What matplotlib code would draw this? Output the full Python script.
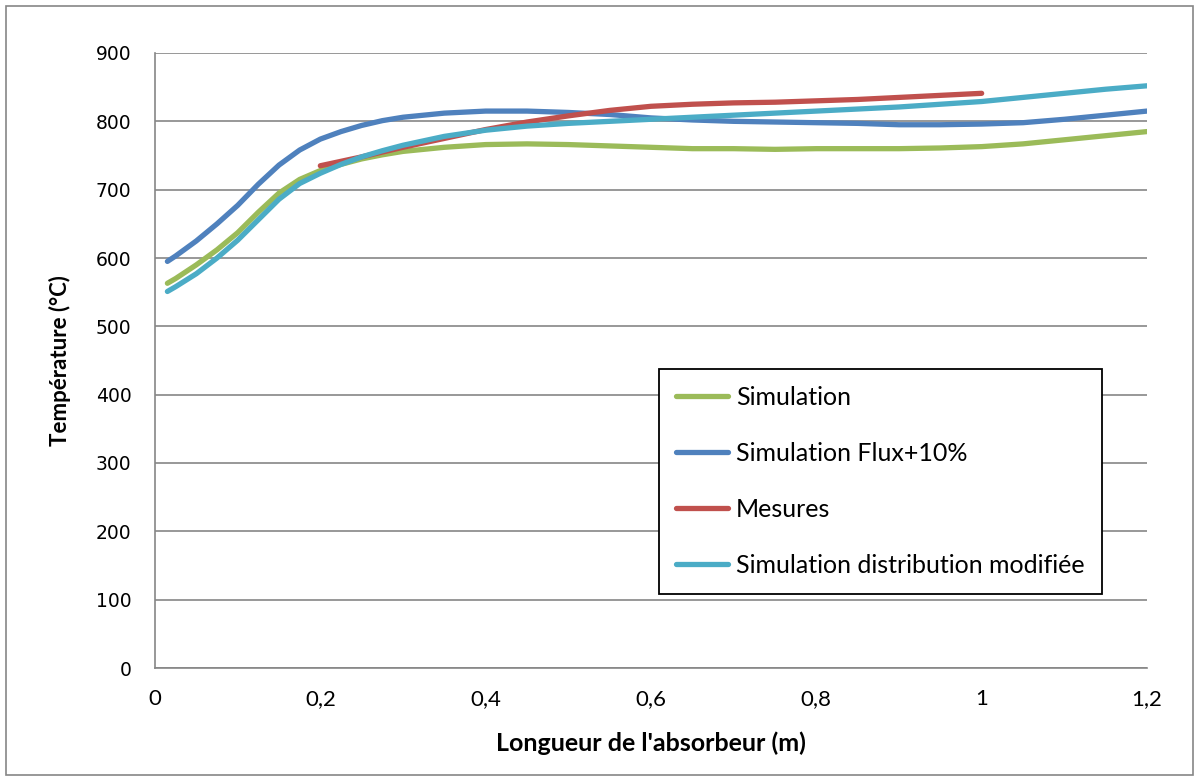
#!/usr/bin/env python3
import matplotlib
matplotlib.use('Agg')
import matplotlib.pyplot as plt
from matplotlib.patches import Rectangle
from matplotlib.ticker import FuncFormatter, MultipleLocator


# valeurs
x_sim = [0.015, 0.025, 0.05, 0.075, 0.1, 0.125, 0.15, 0.175, 0.2, 0.225, 0.25, 0.275, 0.3,
         0.35, 0.4, 0.45, 0.5, 0.55, 0.6, 0.65, 0.7, 0.75, 0.8, 0.85, 0.9, 0.95, 1.0,
         1.05, 1.1, 1.15, 1.2]
sim = [563, 570, 590, 612, 637, 667, 695, 715, 728, 737, 745, 751, 756,
       762, 766, 767, 766, 764, 762, 760, 760, 759, 760, 760, 760, 761, 763,
       767, 773, 779, 785]
flux10 = [595, 603, 625, 650, 677, 708, 736, 758, 774, 785, 794, 801, 806,
          812, 815, 815, 813, 810, 805, 802, 800, 799, 798, 797, 795, 795, 796,
          798, 803, 809, 815]
dist_mod = [551, 558, 577, 600, 626, 656, 686, 709, 724, 737, 748, 757, 765,
            778, 787, 793, 797, 800, 803, 806, 809, 812, 815, 818, 821, 825, 829,
            835, 841, 847, 852]

x_mes = [0.2, 0.25, 0.3, 0.35, 0.4, 0.45, 0.5, 0.55, 0.6, 0.65, 0.7, 0.75, 0.8, 0.85, 0.9, 0.95, 1.0]
mesures = [735, 748, 762, 775, 788, 799, 808, 816, 822, 825, 827, 828, 830, 832, 835, 838, 841]

GREEN = '#9BBB59'
BLUE = '#4F81BD'
RED = '#C0504D'
CYAN = '#4BACC6'
GRID = '#868686'

plt.rcParams['font.family'] = ['Lato', 'DejaVu Sans']

fig = plt.figure(figsize=(12, 7.8), dpi=100)
ax = fig.add_axes([155 / 1200, 1 - 668 / 780, 992 / 1200, 615 / 780])

lw = 3.8
kw = dict(lw=lw, solid_capstyle='round', solid_joinstyle='round')
ax.plot(x_sim, sim, color=GREEN, label='Simulation', **kw)
ax.plot(x_sim, flux10, color=BLUE, label='Simulation Flux+10%', **kw)
ax.plot(x_mes, mesures, color=RED, label='Mesures', **kw)
ax.plot(x_sim, dist_mod, color=CYAN, label='Simulation distribution modifiée', **kw)

ax.set_xlim(0, 1.2)
ax.set_ylim(0, 900)
ax.xaxis.set_major_locator(MultipleLocator(0.2))
ax.yaxis.set_major_locator(MultipleLocator(100))
ax.xaxis.set_major_formatter(FuncFormatter(lambda v, p: ('%g' % round(v, 1)).replace('.', ',')))
ax.tick_params(axis='both', length=0)
ax.tick_params(axis='y', pad=17, labelsize=13.5)
ax.tick_params(axis='x', pad=15, labelsize=16)
for lab in ax.get_yticklabels():
    lab.set_family('DejaVu Sans')
ax.grid(axis='y', color=GRID, lw=1.2)
ax.set_axisbelow(True)
for s in ('top', 'right'):
    ax.spines[s].set_visible(False)
for s in ('left', 'bottom'):
    ax.spines[s].set_color(GRID)
    ax.spines[s].set_linewidth(1.2)

ax.set_xlabel("Longueur de l'absorbeur (m)", fontsize=18, fontweight='bold', labelpad=16)
ax.set_ylabel('Température (°C)', fontsize=16, fontweight='bold', labelpad=18)

leg = ax.legend(loc='lower left', bbox_to_anchor=(0.508, 0.12), fontsize=18,
                frameon=True, fancybox=False, edgecolor='black', framealpha=1,
                labelspacing=1.32, handlelength=2.1, handletextpad=0.3,
                borderpad=0.68, borderaxespad=0)
leg.get_frame().set_linewidth(1.3)

fig.patches.append(Rectangle((6 / 1200, 5 / 780), 1187 / 1200, 769 / 780,
                             transform=fig.transFigure, fill=False,
                             edgecolor=GRID, lw=1.2))

fig.savefig('out.png', dpi=100)
